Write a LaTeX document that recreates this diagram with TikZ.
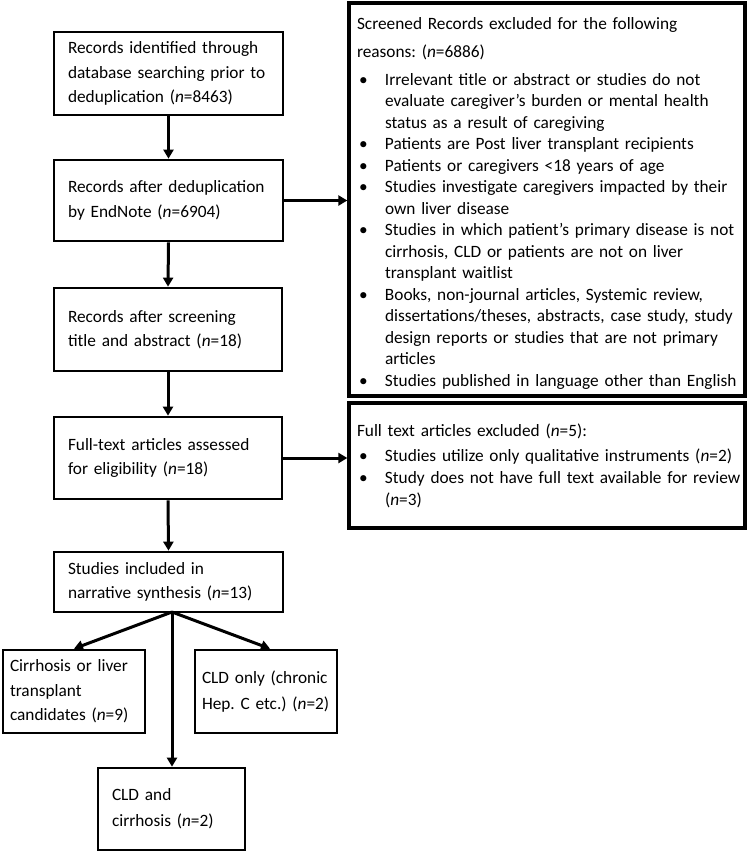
\documentclass[tikz,border=0pt]{standalone}
\usepackage{fontspec}
\setmainfont{Carlito}
\usetikzlibrary{arrows.meta,calc}
\frenchspacing
\newcommand\bul[1]{\par{\leftskip=28pt\noindent\llap{\makebox[26pt][l]{\textbullet}}#1\par}}
\begin{document}
\begin{tikzpicture}[x=1pt,y=-1pt,
  box/.style={draw, line width=2.7pt, rectangle, align=left, inner xsep=14pt, inner ysep=0pt,
    font=\fontsize{17.3}{24.5}\selectfont},
  sbox/.style={box, inner xsep=7pt},
  exbox/.style={draw, line width=3.3pt, rectangle, align=left, inner xsep=8pt, inner ysep=0pt,
    text width=380pt, font=\fontsize{17.3}{21.5}\selectfont},
  arr/.style={line width=3pt, -{Triangle[length=9pt,width=10pt]}}]
\useasboundingbox (0,0) rectangle (747,854);
\node[box, text width=201pt, minimum height=83pt] (b1) at (168.5,73.5)
  {Records identified through\\ \mbox{database searching prior to}\\ deduplication (\textit{n}=8463)};
\node[box, text width=201pt, minimum height=81pt] (b2) at (168.5,200.5)
  {\mbox{Records after deduplication}\\ by EndNote (\textit{n}=6904)};
\node[box, text width=200pt, minimum height=83pt] (b3) at (168,329.5)
  {Records after screening\\ title and abstract (\textit{n}=18)};
\node[box, text width=200pt, minimum height=82pt] (b4) at (168,458)
  {Full-text articles assessed\\ for eligibility (\textit{n}=18)};
\node[box, text width=201pt, minimum height=60pt] (b5) at (168.5,582)
  {Studies included in\\ narrative synthesis (\textit{n}=13)};
\node[sbox, text width=128pt, minimum height=83pt] (b6) at (74,691.5)
  {\mbox{Cirrhosis or liver}\\ transplant\\ \mbox{candidates (\textit{n}=9)}};
\node[sbox, text width=128pt, minimum height=83pt, font=\fontsize{17.3}{26}\selectfont] (b7) at (266,691.5)
  {\mbox{CLD only (chronic}\\ \mbox{Hep. C etc.) (\textit{n}=2)}};
\node[box, text width=119pt, minimum height=82pt, font=\fontsize{17.3}{26}\selectfont] (b8) at (171.5,809)
  {CLD and\\ cirrhosis (\textit{n}=2)};
\node[exbox, minimum height=393pt] (bA) at (547,199.5)
  {{\fontsize{17.3}{28}\selectfont\rule{0pt}{20pt}Screened Records excluded for the following\\ reasons: (\textit{n}=6886)\par}
   \vspace{6pt}
   \bul{\mbox{Irrelevant title or abstract or studies do not}\\ \mbox{evaluate caregiver’s burden or mental health}\\ status as a result of caregiving}
   \bul{\mbox{Patients are Post liver transplant recipients}}
   \bul{Patients or caregivers <18 years of age}
   \bul{\mbox{Studies investigate caregivers impacted by their}\\ own liver disease}
   \bul{\mbox{Studies in which patient’s primary disease is not}\\ \mbox{cirrhosis, CLD or patients are not on liver}\\ transplant waitlist}
   \bul{\mbox{Books, non-journal articles, Systemic review,}\\ \mbox{dissertations/theses, abstracts, case study, study}\\ \mbox{design reports or studies that are not primary}\\ articles}
   \bul{\mbox{Studies published in language other than English}}};
\node[exbox, minimum height=125pt, font=\fontsize{17.3}{22}\selectfont] (bB) at (547,465.5)
  {Full text articles excluded (\textit{n}=5):\par
   \vspace{3pt}
   \bul{\mbox{Studies utilize only qualitative instruments (\textit{n}=2)}}
   \bul{\mbox{Study does not have full text available for review}\\ (\textit{n}=3)}};
\coordinate (split) at (172,612);
\draw[arr] (b1.south) -- (b2.north);
\draw[arr] (b2.south) -- (b3.north);
\draw[arr] (b3.south) -- (b4.north);
\draw[arr] (b4.south) -- (b5.north);
\draw[arr] (b2.east) -- (b2.east -| bA.west);
\draw[arr] (b4.east) -- (b4.east -| bB.west);
\draw[arr] (split) -- (b6.north);
\draw[arr] (split) -- ($(b7.north)+(4,0)$);
\draw[arr] (split) -- (split |- b8.north);
\end{tikzpicture}
\end{document}
